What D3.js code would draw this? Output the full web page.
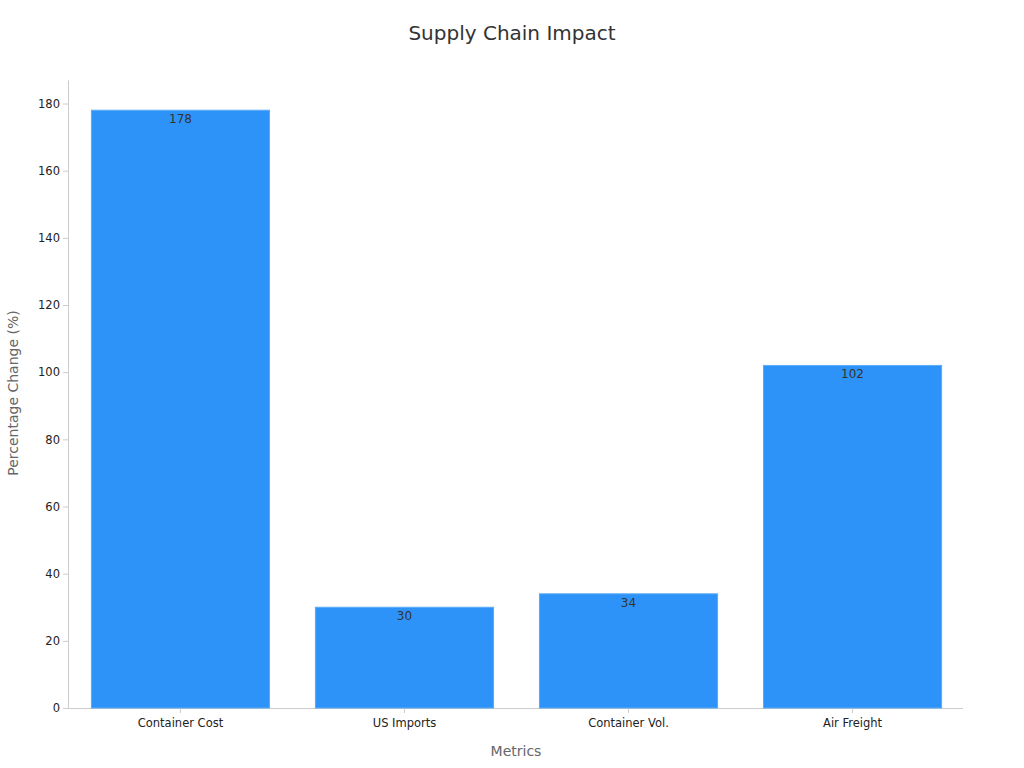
<!DOCTYPE html>
<html><head><meta charset="utf-8">
<script src="https://cdn.jsdelivr.net/npm/d3@7"></script>
<style>body{margin:0;background:#fff;font-family:"DejaVu Sans",sans-serif;}</style>
</head><body><svg id="c" width="1024" height="768"></svg>
<script>
const categories = ["Container Cost","US Imports","Container Vol.","Air Freight"];
const values = [178,30,34,102];
const yTicks = [0,20,40,60,80,100,120,140,160,180];

const svg = d3.select("#c");
const m = {l:68, r:963, t:80, b:708};
const x = d3.scaleBand().domain(categories).range([m.l+1,m.r+1]).paddingInner(0.205).paddingOuter(0.1);
const y = d3.scaleLinear().domain([0,187]).range([m.b,m.t]);

svg.append("text").attr("x",512).attr("y",40).attr("text-anchor","middle")
  .attr("font-size",20).attr("fill","#333").text("Supply Chain Impact");

const gx = svg.append("g").attr("transform",`translate(0,${m.b})`)
  .call(d3.axisBottom(x).tickSize(5).tickSizeOuter(0));
gx.select("path").attr("d",`M${m.l},0.5H${m.r}`);
const gy = svg.append("g").attr("transform",`translate(${m.l},0)`)
  .call(d3.axisLeft(y).tickValues(yTicks).tickSize(5).tickSizeOuter(0));
[gx,gy].forEach(g=>{
  g.selectAll("path,line").attr("stroke","#ccc");
  g.selectAll("text").attr("font-size",11.5).attr("fill","#222").attr("font-family","DejaVu Sans");
});
gx.selectAll("text").attr("dy","0.95em");

svg.selectAll("rect.bar").data(values).enter().append("rect")
  .attr("x",(d,i)=>x(categories[i])).attr("width",x.bandwidth())
  .attr("y",d=>y(d)).attr("height",d=>y(0)-y(d))
  .attr("fill","#2e93f8").attr("stroke","#5aaaf8").attr("stroke-width",1);

svg.selectAll("text.lbl").data(values).enter().append("text")
  .attr("x",(d,i)=>x(categories[i])+x.bandwidth()/2).attr("y",d=>y(d)+13)
  .attr("text-anchor","middle").attr("font-size",12).attr("fill","#333").text(d=>d);

svg.append("text").attr("x",516).attr("y",756).attr("text-anchor","middle")
  .attr("font-size",14).attr("fill","#666").text("Metrics");
svg.append("text").attr("transform","translate(18,393) rotate(-90)").attr("text-anchor","middle")
  .attr("font-size",14).attr("fill","#666").text("Percentage Change (%)");
</script></body></html>
